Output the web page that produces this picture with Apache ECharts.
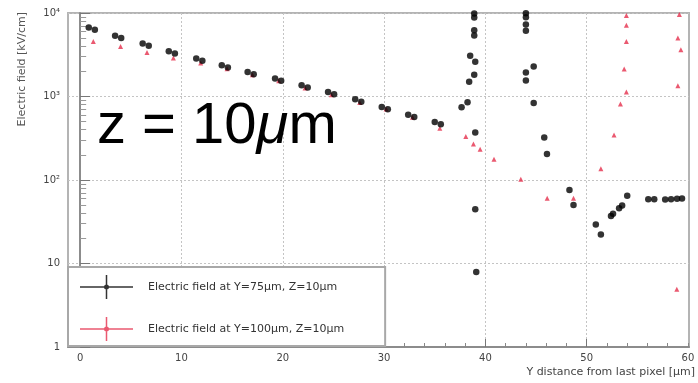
<!DOCTYPE html>
<html>
<head>
<meta charset="utf-8">
<script src="https://cdn.jsdelivr.net/npm/echarts@6/dist/echarts.min.js"></script>
<style>
  html, body { margin: 0; padding: 0; background: #fff; }
  #chart { width: 698px; height: 383px; }
</style>
</head>
<body>
<div id="chart"></div>
<script>
// Electric field at Y=75 µm, Z=10 µm : position [µm] and field [kV/cm]
const y75Pos = [
  0.85, 1.45, 3.45, 4.05, 6.17, 6.77, 8.75, 9.35, 11.46, 12.06, 13.98, 14.58,
  16.53, 17.13, 19.24, 19.84, 21.86, 22.46, 24.47, 25.07, 27.15, 27.75,
  29.77, 30.37, 32.38, 32.98, 35.0, 35.6, 37.65, 38.24,
  38.9, 38.9, 38.9, 38.9, 38.5, 39.0, 38.9, 38.4, 39.0, 39.0, 39.1,
  44.0, 44.0, 44.0, 44.0, 44.0, 44.0, 44.77, 44.77, 45.81, 46.08, 48.3, 48.7,
  50.9, 51.4, 52.4, 52.6, 53.2, 53.5, 54.0,
  56.08, 56.67, 57.75, 58.33, 58.92, 59.41
];
const y75Field = [
  6700, 6300, 5330, 5020, 4300, 4050, 3480, 3270, 2850, 2680, 2360, 2220,
  1970, 1850, 1640, 1540, 1360, 1280, 1135, 1065, 925, 868,
  748, 704, 605, 569, 494, 464, 742, 851,
  9840, 8810, 6230, 5360, 3080, 2610, 1820, 1500, 370, 44.5, 7.9,
  9900, 8900, 7260, 6150, 1940, 1556, 2290, 834, 322, 205, 75.9, 50.1,
  29.4, 22.3, 37, 39.5, 46, 49.5, 64.8,
  59, 59, 58.5, 59, 59.5, 60
];

// Electric field at Y=100 µm, Z=10 µm
const y100Pos = [
  1.3, 3.99, 6.6, 9.2, 11.9, 14.5, 17.0, 19.6, 22.2, 24.8, 27.6, 30.2, 32.8, 35.5,
  38.07, 38.82, 39.48, 40.85, 43.5, 46.1, 48.7,
  51.4, 52.7, 53.33, 53.92, 53.7, 53.92, 53.92, 53.92,
  59.15, 59.0, 59.3, 59.0, 58.9
];
const y100Field = [
  4570, 3980, 3375, 2890, 2520, 2150, 1820, 1545, 1262, 1047, 847, 706, 566, 418,
  331, 270, 234, 177, 102, 60.3, 60.3,
  136, 347, 811, 1130, 2130, 4570, 7110, 9310,
  9570, 5020, 3640, 1343, 4.9
];

const seriesNames = [
  'Electric field at Y=75μm, Z=10μm',
  'Electric field at Y=100μm, Z=10μm'
];

// axis ticks and labels
const xLabelValues = [0, 10, 20, 30, 40, 50, 60];
const xGridValues = [10, 20, 30, 40, 50];
const xMinorValues = [0, 2, 4, 6, 8, 12, 14, 16, 18, 22, 24, 26, 28, 32, 34, 36, 38,
  42, 44, 46, 48, 52, 54, 56, 58, 60];
const yDecades = [1, 10, 100, 1000, 10000];
const yDecadeLabels = ['1', '10', '10²', '10³', '10⁴'];
const yMinorValues = [2, 3, 4, 5, 6, 7, 8, 9, 20, 30, 40, 50, 60, 70, 80, 90,
  200, 300, 400, 500, 600, 700, 800, 900, 2000, 3000, 4000, 5000, 6000, 7000, 8000, 9000];

const xTitle = 'Y distance from last pixel [μm]';
const yTitle = 'Electric field [kV/cm]';

const smallFont = 'DejaVu Sans';
const X_MIN = -1.2, X_MAX = 60.1;

const zip = (xs, ys) => xs.map((x, i) => [x, ys[i]]);

// legend icon: horizontal bar, vertical error bar and marker dot
const legendIcon = 'path://M0 11.25H53V12.75H0Z M25.75 0H27.25V24H25.75Z M24 12A2.5 2.5 0 1 1 29 12A2.5 2.5 0 1 1 24 12Z';

const chart = echarts.init(document.getElementById('chart'), null, { renderer: 'canvas' });

const splitStyle = { color: '#c4c4c4', width: 1, type: [2, 2] };

chart.setOption({
  animation: false,
  backgroundColor: '#fff',
  grid: {
    left: 68, right: 5, top: 13, bottom: 36,
    show: true, borderColor: '#b4b4b4', borderWidth: 2, backgroundColor: 'transparent'
  },
  xAxis: [
    {
      type: 'value', min: X_MIN, max: X_MAX, position: 'bottom',
      axisLine: { show: true, onZero: false, lineStyle: { color: '#8c8c8c', width: 2 } },
      axisTick: { show: true, inside: true, length: 8, customValues: xGridValues,
        lineStyle: { color: '#777', width: 1 } },
      axisLabel: { customValues: xLabelValues, margin: 6, fontFamily: smallFont, fontSize: 10, color: '#444' },
      splitLine: { show: true, lineStyle: splitStyle },
      name: xTitle, nameLocation: 'end', nameGap: 6,
      nameTextStyle: { fontFamily: smallFont, fontSize: 11, color: '#444',
        align: 'right', verticalAlign: 'top', padding: [20, 0, 0, 0] }
    },
    {
      type: 'value', min: X_MIN, max: X_MAX, position: 'bottom',
      axisLine: { show: false },
      axisTick: { show: true, inside: true, length: 4, customValues: xMinorValues,
        lineStyle: { color: '#888', width: 1 } },
      axisLabel: { show: false },
      splitLine: { show: false }
    }
  ],
  yAxis: [
    {
      type: 'log', logBase: 10, min: 1, max: 10000, position: 'left',
      axisLine: { show: true, lineStyle: { color: '#8c8c8c', width: 2 } },
      axisTick: { show: true, inside: true, length: 10, customValues: yDecades,
        lineStyle: { color: '#777', width: 1 } },
      axisLabel: {
        customValues: yDecades, margin: 8, fontFamily: smallFont, fontSize: 10, color: '#444',
        formatter: v => yDecadeLabels[yDecades.indexOf(Math.round(v))] || ''
      },
      splitLine: { show: true, lineStyle: splitStyle }
    },
    {
      type: 'log', logBase: 10, min: 1, max: 10000, position: 'left',
      axisLine: { show: false },
      axisTick: { show: true, inside: true, length: 6, customValues: yMinorValues,
        lineStyle: { color: '#999', width: 1 } },
      axisLabel: { show: false },
      splitLine: { show: false }
    }
  ],
  legend: {
    orient: 'vertical', left: 68, top: 267,
    padding: [8, 41, 5, 12], itemGap: 18, itemWidth: 53, itemHeight: 24,
    borderColor: '#a8a8a8', borderWidth: 2, borderRadius: 0, backgroundColor: '#fff',
    selectedMode: false,
    textStyle: { fontFamily: smallFont, fontSize: 11, color: '#333', padding: [0, 0, 0, 10] },
    data: [
      { name: seriesNames[0], icon: legendIcon },
      { name: seriesNames[1], icon: legendIcon }
    ]
  },
  graphic: [
    {
      type: 'text', x: 22, y: 12, rotation: Math.PI / 2,
      style: { text: yTitle, font: '11px "DejaVu Sans"', fill: '#555', align: 'right', verticalAlign: 'middle' }
    },
    {
      type: 'text', x: 97, y: 127, z: 10,
      style: {
        text: '{a|z = 10}{b|μ}{a|m}',
        verticalAlign: 'middle',
        rich: {
          a: { fontFamily: 'Liberation Sans', fontSize: 58, fill: '#000', color: '#000' },
          b: { fontFamily: 'Liberation Sans', fontSize: 58, fontStyle: 'italic', fill: '#000', color: '#000' }
        }
      }
    }
  ],
  series: [
    {
      name: seriesNames[0], type: 'scatter', xAxisIndex: 0, yAxisIndex: 0,
      symbol: 'circle', symbolSize: 6.5,
      itemStyle: { color: '#000' },
      data: zip(y75Pos, y75Field), z: 3
    },
    {
      name: seriesNames[1], type: 'scatter', xAxisIndex: 0, yAxisIndex: 0,
      symbol: 'triangle', symbolSize: 5,
      itemStyle: { color: '#e5304c' },
      data: zip(y100Pos, y100Field), z: 2
    }
  ]
});
</script>
</body>
</html>
